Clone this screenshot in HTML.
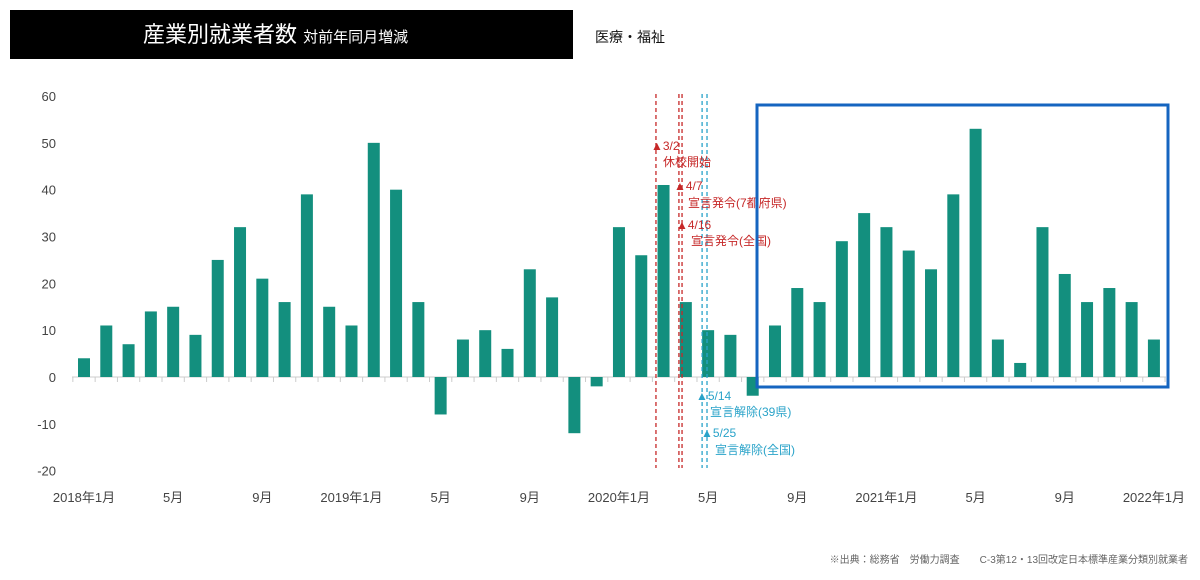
<!DOCTYPE html>
<html><head><meta charset="utf-8"><style>
body{margin:0;background:#fff;font-family:"Liberation Sans","Noto Sans CJK JP",sans-serif;}
svg text{font-family:"Liberation Sans","Noto Sans CJK JP",sans-serif;}
</style></head><body>
<svg width="1200" height="575" xmlns="http://www.w3.org/2000/svg">
<rect x="10" y="10" width="563" height="49" fill="#000"/>
<text x="143" y="42" fill="#fff" font-size="22">産業別就業者数 <tspan font-size="15">対前年同月増減</tspan></text>
<text x="595" y="42" font-size="14" fill="#111">医療・福祉</text>
<g id="axes"></g><g id="bars"></g><g id="ann"></g>
<rect x="757" y="105" width="411" height="282" fill="none" stroke="#1565c0" stroke-width="3"/>
<text x="1188" y="563" text-anchor="end" font-size="10" fill="#666">※出典：総務省　労働力調査　　C-3第12・13回改定日本標準産業分類別就業者</text>
</svg>
<script>
const values=[4,11,7,14,15,9,25,32,21,16,39,15,11,50,40,16,-8,8,10,6,23,17,-12,-2,32,26,41,16,10,9,-4,11,19,16,29,35,32,27,23,39,53,8,3,32,22,16,19,16,8];
const yTicks=[60,50,40,30,20,10,0,-10,-20];
const xLabels=[[0,"2018年1月"],[4,"5月"],[8,"9月"],[12,"2019年1月"],[16,"5月"],[20,"9月"],[24,"2020年1月"],[28,"5月"],[32,"9月"],[36,"2021年1月"],[40,"5月"],[44,"9月"],[48,"2022年1月"]];
const eventX=[25.66,26.69,26.83,27.73,27.95];
const NS="http://www.w3.org/2000/svg";
const y=v=>377-v*4.683;
const x=i=>84+i*22.29;
function el(t,a,p){const e=document.createElementNS(NS,t);for(const k in a)e.setAttribute(k,a[k]);p.appendChild(e);return e;}
const ax=document.getElementById('axes'),bg=document.getElementById('bars'),an=document.getElementById('ann');
yTicks.forEach(t=>{const e=el('text',{x:56,y:y(t)+5,'text-anchor':'end','font-size':13,fill:'#444'},ax);e.textContent=t;

});
const zl=el('line',{x1:72,x2:1166,y1:y(0),y2:y(0),stroke:'#ccc'},ax);


for(let i=0;i<=values.length;i++){el('line',{x1:x(i-0.5),x2:x(i-0.5),y1:y(0),y2:y(0)+5,stroke:'#ccc'},ax);}
xLabels.forEach(([i,l])=>{const e=el('text',{x:x(i),y:502,'text-anchor':'middle','font-size':13,fill:'#444'},ax);e.textContent=l;

});
values.forEach((v,i)=>{const r=el('rect',{x:x(i)-6,y:Math.min(y(v),y(0)),width:12,height:Math.abs(y(v)-y(0)),fill:'#138f7e'},bg);

});
eventX.forEach((ex,k)=>{const c=k<3?'#c62828':'#29a3c9';const l=el('line',{x1:x(ex),x2:x(ex),y1:94,y2:468,stroke:c,'stroke-width':1.3,'stroke-dasharray':'4,3'},an);

});
const notes=[[651,150,"▲3/2","#c62828"],[663,166,"休校開始","#c62828"],[674,190,"▲4/7","#c62828"],[688,207,"宣言発令(7都府県)","#c62828"],[676,229,"▲4/16","#c62828"],[691,245,"宣言発令(全国)","#c62828"],[696,400,"▲5/14","#29a3c9"],[710,416,"宣言解除(39県)","#29a3c9"],[701,437,"▲5/25","#29a3c9"],[715,454,"宣言解除(全国)","#29a3c9"]];
notes.forEach(([nx,ny,t,c])=>{const e=el('text',{x:nx,y:ny,'font-size':12,fill:c},an);e.textContent=t;

});
</script>
</body></html>
